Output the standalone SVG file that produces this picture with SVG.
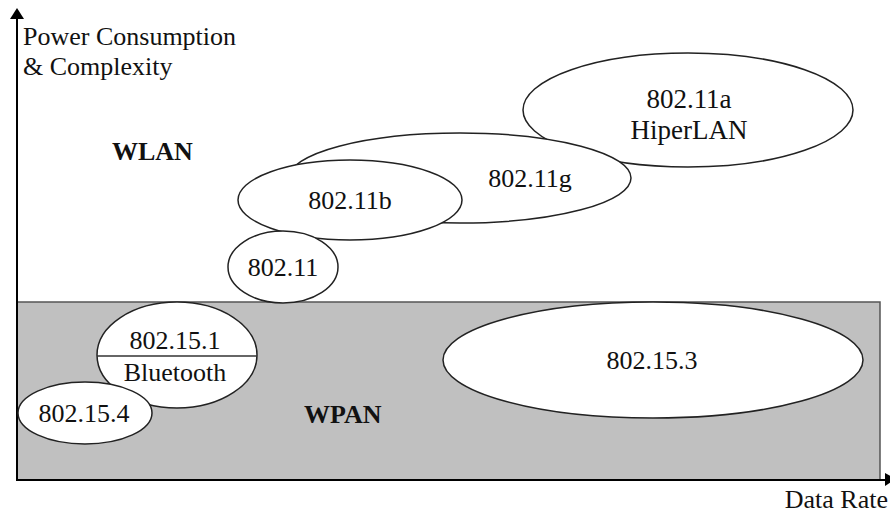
<svg xmlns="http://www.w3.org/2000/svg" width="890" height="513" viewBox="0 0 890 513">
<style>
text{font-family:"Liberation Serif","Times New Roman",serif;font-size:26px;fill:#111}
.c{text-anchor:middle}
.b{font-weight:bold}
.l{font-size:27px}
.e{fill:#fff;stroke:#222;stroke-width:1.5}
.ax{stroke:#000;stroke-width:2;fill:none}
</style>
<g id="wpan-area">
<rect x="17" y="302" width="863" height="178" fill="#c0c0c0" stroke="#555" stroke-width="1.5"/>
</g>
<g id="axes">
<line class="ax" x1="17" y1="481" x2="17" y2="16"/>
<polygon points="17,8 10,19 24,19" fill="#000"/>
<line class="ax" x1="17" y1="480" x2="886" y2="480"/>
<polygon points="896,479 885,473 885,486" fill="#000"/>
<text x="23" y="45">Power Consumption</text>
<text x="23" y="75">&amp; Complexity</text>
<text x="888" y="508" text-anchor="end">Data Rate</text>
</g>
<g id="wlan-label"><text class="b" x="112" y="160">WLAN</text></g>
<g id="wpan-label"><text class="b" x="304" y="423">WPAN</text></g>
<g id="n80211a">
<ellipse class="e" cx="688" cy="110" rx="165" ry="57"/>
<text class="c l" x="689" y="108">802.11a</text>
<text class="c l" x="689" y="139">HiperLAN</text>
</g>
<g id="n80211g">
<ellipse class="e" cx="460" cy="178" rx="171" ry="45"/>
<text class="c" x="530" y="187">802.11g</text>
</g>
<g id="n80211b">
<ellipse class="e" cx="350" cy="200" rx="112" ry="40"/>
<text class="c" x="350" y="209">802.11b</text>
</g>
<g id="n80211">
<ellipse class="e" cx="283" cy="267" rx="55" ry="36"/>
<text class="c" x="283" y="276">802.11</text>
</g>
<g id="n802151">
<ellipse class="e" cx="177" cy="355" rx="80" ry="53"/>
<line x1="97" y1="356" x2="257" y2="356" stroke="#333" stroke-width="1.5"/>
<text class="c" x="175" y="349">802.15.1</text>
<text class="c" x="175" y="381">Bluetooth</text>
</g>
<g id="n802154">
<ellipse class="e" cx="85" cy="413" rx="67" ry="31"/>
<text class="c" x="84" y="422">802.15.4</text>
</g>
<g id="n802153">
<ellipse class="e" cx="653" cy="360" rx="210" ry="58"/>
<text class="c" x="652" y="369">802.15.3</text>
</g>
<g id="connectors"></g>
</svg>
